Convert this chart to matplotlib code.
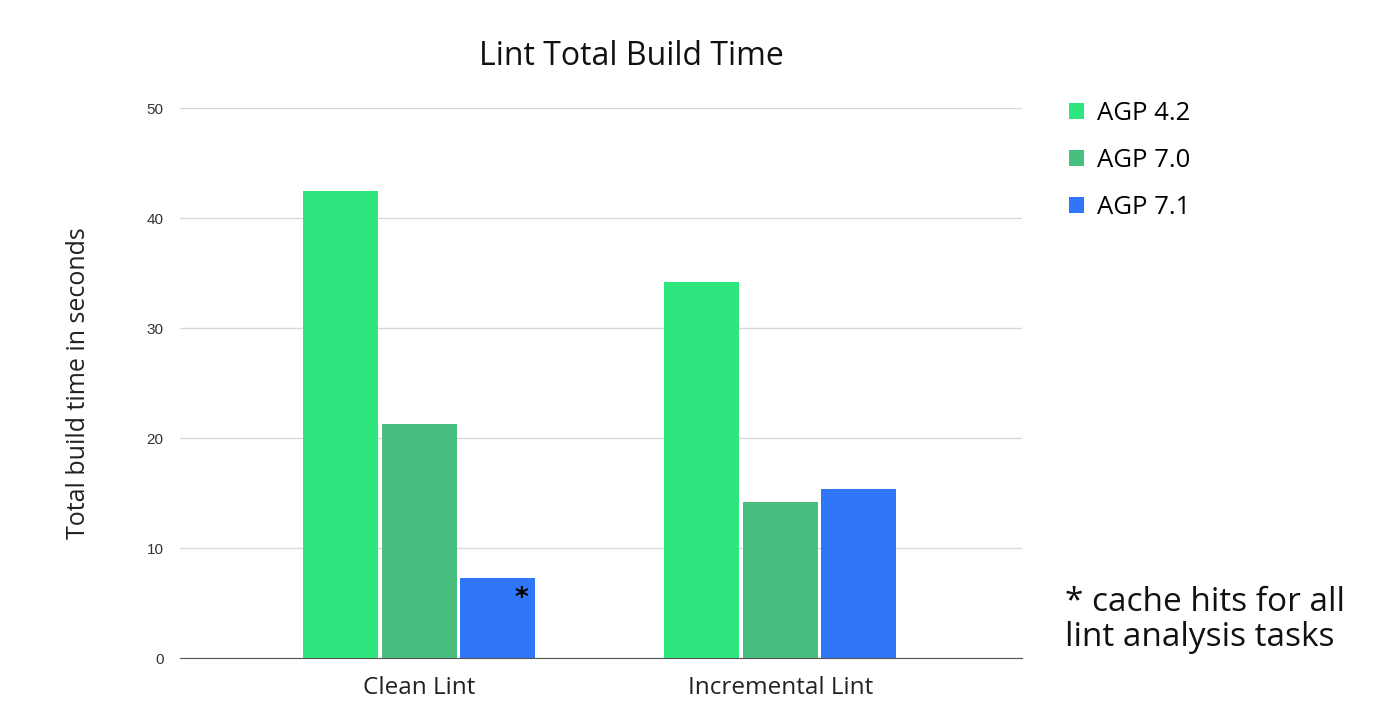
import matplotlib.pyplot as plt
import numpy as np

categories = ["Clean Lint", "Incremental Lint"]
series = ["AGP 4.2", "AGP 7.0", "AGP 7.1"]
agp42 = [42.5, 34.2]
agp70 = [21.3, 14.2]
agp71 = [7.3, 15.4]
colors = ["#2ee67e", "#46bf7f", "#2f77f8"]

fig = plt.figure(figsize=(13.98, 7.23), dpi=100)
ax = fig.add_axes([0.1288, 0.0899, 0.6023, 0.7607])

x = np.arange(len(categories))
w = 0.208
step = 0.2175
for i, (vals, lab, c) in enumerate(zip([agp42, agp70, agp71], series, colors)):
    ax.bar(x + (i - 1) * step, vals, w, color=c, label=lab, zorder=3)

# asterisk on clean lint AGP 7.1
ax.annotate("*", (x[0] + step + w * 0.32, agp71[0]), xytext=(0, -25),
            textcoords="offset points", ha="center", va="bottom",
            fontsize=19, fontweight="bold", family="DejaVu Sans", zorder=4)

ax.set_ylim(0, 50)
ax.set_xlim(-0.662, 1.67)
ax.set_yticks(range(0, 51, 10))
ax.yaxis.grid(True, color="#d9d9d9", linewidth=1, zorder=0)
for s in ["top", "right", "left"]:
    ax.spines[s].set_visible(False)
ax.spines["bottom"].set_color("#555555")
ax.spines["bottom"].set_zorder(4)
ax.tick_params(axis="y", length=0, pad=12, labelsize=11, labelcolor="#333333")
ax.tick_params(axis="x", length=0, pad=13)
ax.set_xticks(x)
ax.set_xticklabels(categories, fontsize=17.5, family="Open Sans", color="#222222")
for t in ax.get_yticklabels():
    t.set_family("Liberation Sans")

ax.set_ylabel("Total build time in seconds", fontsize=18, family="Open Sans",
              color="#222222", labelpad=40)

fig.text(0.4513, 0.922, "Lint Total Build Time", ha="center", va="center",
         fontsize=23, family="Open Sans", color="#111111")

ax.legend(loc="upper left", bbox_to_anchor=(0.748, 0.892), bbox_transform=fig.transFigure,
          frameon=False, handlelength=0.6, handleheight=0.6, handletextpad=0.5,
          labelspacing=0.85, prop={"family": "Open Sans", "size": 18.5})

fig.text(0.762, 0.095, "* cache hits for all\nlint analysis tasks", ha="left", va="bottom",
         fontsize=24, family="Open Sans", color="#111111", linespacing=1.1)

fig.savefig("out.png", dpi=100)
